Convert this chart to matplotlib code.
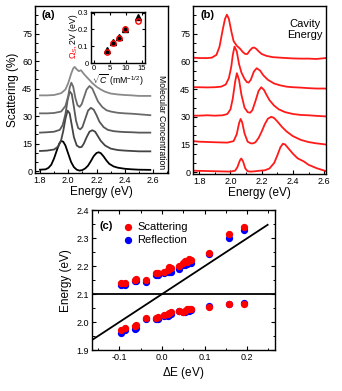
import matplotlib
matplotlib.use("Agg")
import matplotlib.pyplot as plt
from matplotlib.ticker import MultipleLocator

plt.rcParams['font.family'] = ['Liberation Sans', 'DejaVu Sans']
plt.rcParams['mathtext.fontset'] = 'custom'
plt.rcParams['mathtext.rm'] = 'Liberation Sans'
plt.rcParams['mathtext.it'] = 'Liberation Sans:italic'

# ---- panel (a): scattering spectra vs molecular concentration ----
a0_e = [1.80, 1.84, 1.86, 1.88, 1.90, 1.92, 1.935, 1.95, 1.965, 1.98, 2.00, 2.02, 2.04, 2.06, 2.08, 2.10,
        2.12, 2.14, 2.16, 2.18, 2.20, 2.215, 2.23, 2.25, 2.27, 2.29, 2.32, 2.35, 2.40, 2.45, 2.50, 2.58]
a0_v = [0.8, 1.0, 1.8, 3.5, 7.0, 11.5, 14.8, 16.5, 16.0, 14.0, 9.5, 5.0, 2.2, 0.8, 0.3, 0.6,
        1.5, 3.0, 5.5, 8.2, 9.9, 10.3, 9.8, 8.0, 5.8, 4.0, 2.6, 1.9, 1.3, 1.0, 0.8, 0.7]
a1_e = [1.80, 1.85, 1.90, 1.93, 1.95, 1.965, 1.98, 1.995, 2.01, 2.025, 2.04, 2.06, 2.08, 2.095, 2.11,
        2.13, 2.15, 2.17, 2.19, 2.21, 2.23, 2.26, 2.30, 2.35, 2.40, 2.45, 2.50, 2.58]
a1_v = [11.0, 11.2, 11.8, 13.5, 17.0, 22.0, 28.5, 33.0, 31.5, 25.0, 18.5, 14.0, 13.0, 13.2, 15.0,
        18.5, 21.5, 22.3, 21.5, 19.0, 16.5, 14.0, 12.3, 11.5, 11.2, 11.0, 10.8, 10.8]
a2_e = [1.80, 1.85, 1.90, 1.94, 1.96, 1.98, 1.995, 2.01, 2.025, 2.04, 2.055, 2.07, 2.085, 2.10, 2.12,
        2.14, 2.16, 2.18, 2.20, 2.22, 2.25, 2.28, 2.32, 2.36, 2.40, 2.45, 2.50, 2.58]
a2_v = [21.0, 21.2, 21.5, 22.5, 25.0, 31.0, 38.5, 43.5, 42.0, 35.0, 27.5, 23.5, 22.8, 24.0, 28.5,
        33.0, 34.5, 33.5, 30.5, 27.0, 24.0, 22.5, 21.8, 21.5, 21.3, 21.2, 21.0, 21.0]
a3_e = [1.80, 1.85, 1.90, 1.95, 1.98, 2.00, 2.01, 2.022, 2.035, 2.05, 2.065, 2.08, 2.095, 2.11, 2.13,
        2.15, 2.17, 2.19, 2.21, 2.24, 2.27, 2.30, 2.35, 2.40, 2.45, 2.50, 2.58]
a3_v = [31.5, 31.5, 31.7, 32.5, 35.5, 41.0, 45.5, 48.2, 46.0, 40.0, 36.0, 35.0, 36.5, 40.0, 44.5,
        46.4, 45.0, 41.5, 38.0, 35.0, 33.2, 32.5, 31.8, 31.5, 31.3, 31.0, 30.5]
a4_e = [1.80, 1.85, 1.90, 1.95, 1.98, 2.00, 2.02, 2.035, 2.046, 2.06, 2.075, 2.09, 2.11, 2.14, 2.17,
        2.20, 2.23, 2.26, 2.30, 2.35, 2.40, 2.45, 2.50, 2.58]
a4_v = [41.3, 41.3, 41.5, 42.5, 44.5, 48.0, 53.0, 56.0, 56.8, 55.5, 54.5, 55.0, 53.0, 50.5, 48.0,
        46.0, 44.5, 43.3, 42.3, 41.8, 41.5, 41.3, 41.0, 41.0]
a_colors = ['#000000', '#444444', '#585858', '#6a6a6a', '#8a8a8a']

# inset: splitting vs sqrt(concentration)
inset_c = [4.2, 6.1, 7.9, 9.7, 13.9]
inset_2v = [0.08, 0.125, 0.155, 0.205, 0.275]
inset_omega = [0.065, 0.12, 0.15, 0.2, 0.25]

# ---- panel (b): scattering spectra vs cavity energy ----
b0_e = [1.76, 1.80, 1.90, 2.00, 2.03, 2.045, 2.06, 2.069, 2.08, 2.095, 2.11, 2.13, 2.16, 2.19, 2.22,
        2.25, 2.28, 2.30, 2.32, 2.336, 2.35, 2.37, 2.40, 2.43, 2.47, 2.50, 2.55, 2.61]
b0_v = [0.8, 0.7, 0.5, 0.3, 0.8, 2.8, 6.3, 7.4, 6.0, 2.0, 0.5, 0.3, 0.5, 0.8, 1.0,
        2.0, 5.0, 9.0, 13.5, 15.4, 15.0, 13.0, 10.0, 7.5, 5.8, 4.0, 2.2, 0.6]
b1_e = [1.76, 1.80, 1.90, 1.98, 2.02, 2.04, 2.055, 2.065, 2.075, 2.09, 2.11, 2.13, 2.145, 2.16, 2.18,
        2.20, 2.22, 2.24, 2.262, 2.28, 2.30, 2.33, 2.36, 2.40, 2.45, 2.50, 2.55, 2.61]
b1_v = [16.8, 16.5, 16.2, 16.0, 16.8, 20.5, 26.5, 28.8, 27.0, 21.0, 16.5, 15.6, 15.6, 16.2, 18.5,
        22.0, 26.0, 29.0, 30.0, 29.3, 27.5, 24.5, 22.0, 19.5, 17.5, 16.3, 15.6, 15.0]
b2_e = [1.76, 1.80, 1.85, 1.90, 1.95, 1.98, 2.00, 2.015, 2.03, 2.041, 2.055, 2.07, 2.09, 2.11, 2.126,
        2.14, 2.16, 2.18, 2.197, 2.215, 2.23, 2.25, 2.28, 2.31, 2.35, 2.40, 2.45, 2.50, 2.55, 2.61]
b2_v = [30.6, 30.6, 30.8, 30.6, 30.8, 31.5, 34.0, 40.0, 49.0, 53.6, 50.0, 42.0, 35.0, 32.5, 32.2,
        33.5, 38.5, 44.0, 46.0, 44.5, 42.0, 39.0, 36.0, 34.0, 32.5, 31.5, 31.0, 30.8, 30.5, 30.2]
b3_e = [1.76, 1.80, 1.85, 1.90, 1.94, 1.97, 1.99, 2.005, 2.015, 2.026, 2.04, 2.055, 2.07, 2.09, 2.105,
        2.116, 2.13, 2.15, 2.168, 2.19, 2.21, 2.24, 2.28, 2.32, 2.36, 2.40, 2.45, 2.50, 2.55, 2.61]
b3_v = [46.0, 46.0, 45.9, 46.0, 46.3, 47.5, 51.0, 57.0, 63.5, 68.0, 65.5, 58.5, 54.0, 50.5, 48.8,
        48.5, 50.0, 54.5, 56.3, 55.0, 52.5, 50.0, 48.0, 47.0, 46.3, 46.0, 45.8, 45.5, 45.3, 45.3]
b4_e = [1.76, 1.80, 1.85, 1.88, 1.91, 1.93, 1.95, 1.965, 1.977, 1.99, 2.005, 2.02, 2.04, 2.06, 2.08,
        2.095, 2.108, 2.125, 2.14, 2.152, 2.165, 2.18, 2.20, 2.23, 2.27, 2.32, 2.40, 2.45, 2.50, 2.55, 2.61]
b4_v = [62.0, 61.8, 61.8, 62.0, 63.5, 68.0, 77.0, 83.0, 85.3, 83.0, 76.5, 71.0, 68.5, 67.0, 65.0,
        64.0, 64.0, 66.0, 67.3, 67.5, 66.8, 65.5, 64.0, 63.0, 62.3, 62.0, 61.6, 61.5, 61.5, 61.3, 61.8]

# ---- panel (c): polariton energies vs detuning ----
de = [-0.097, -0.087, -0.064, -0.060, -0.037, -0.013, -0.009, 0.004, 0.014, 0.017, 0.020,
      0.040, 0.049, 0.054, 0.059, 0.064, 0.067, 0.111, 0.158, 0.193]
up_scat = [2.140, 2.140, 2.152, 2.153, 2.150, 2.175, 2.175, 2.180, 2.188, 2.197, 2.192,
           2.200, 2.212, 2.218, 2.215, 2.225, 2.222, 2.247, 2.315, 2.340]
up_refl = [2.133, 2.133, 2.147, 2.148, 2.145, 2.170, 2.170, 2.177, 2.180, 2.178, 2.178,
           2.190, 2.205, 2.205, 2.207, 2.210, 2.212, 2.243, 2.300, 2.330]
lp_scat = [1.970, 1.980, 1.985, 1.990, 2.015, 2.015, 2.017, 2.025, 2.030, 2.033, 2.037,
           2.040, 2.035, 2.040, 2.045, 2.045, 2.047, 2.055, 2.063, 2.063]
lp_refl = [1.962, 1.970, 1.975, 1.980, 2.010, 2.010, 2.012, 2.020, 2.023, 2.025, 2.030,
           2.038, 2.035, 2.035, 2.040, 2.040, 2.042, 2.057, 2.065, 2.068]
cav_x = [-0.165, 0.248]
cav_y = [1.935, 2.348]
mol_x = [-0.165, 0.266]
mol_y = [2.1, 2.1]


def style(ax, right=False, top=False):
    ax.tick_params(which='both', direction='in', labelsize=6.5, pad=2, right=right, top=top)
    ax.tick_params(which='major', length=3, width=0.8)
    ax.tick_params(which='minor', length=1.8, width=0.7)
    for s in ax.spines.values():
        s.set_linewidth(1.0)


fig = plt.figure(figsize=(3.42, 3.91), dpi=100)
W, H = 342, 391


def add_ax(l, t, r, b):
    return fig.add_axes([l / W, 1 - b / H, (r - l) / W, (b - t) / H])


# panel (a)
ax_a = add_ax(35, 6, 168, 173)
for e, v, c in zip([a0_e, a1_e, a2_e, a3_e, a4_e], [a0_v, a1_v, a2_v, a3_v, a4_v], a_colors):
    ax_a.plot(e, v, color=c, lw=1.3)
ax_a.set_xlim(1.765, 2.705)
ax_a.set_ylim(-1, 90)
ax_a.set_xticks([1.8, 2.0, 2.2, 2.4, 2.6])
ax_a.set_yticks([0, 15, 30, 45, 60, 75])
ax_a.xaxis.set_minor_locator(MultipleLocator(0.1))
ax_a.yaxis.set_minor_locator(MultipleLocator(5))
style(ax_a)
ax_a.set_xlabel('Energy (eV)', fontsize=8.5, labelpad=1)
ax_a.set_ylabel('Scattering (%)', fontsize=8.5, labelpad=2)
ax_a.text(0.05, 0.946, '(a)', transform=ax_a.transAxes, fontsize=8, fontweight='bold', va='center')
ax_a.text(0.95, 0.305, 'Molecular Concentration', transform=ax_a.transAxes, rotation=270,
          fontsize=6.2, ha='center', va='center')

# inset
ax_i = add_ax(90.7, 11.7, 145, 63)
ax_i.plot(inset_c, inset_2v, linestyle='none', marker='^', ms=4, color='black')
ax_i.plot(inset_c, inset_omega, linestyle='none', marker='o', ms=3.8, mfc='none', mec='red', mew=1.0)
ax_i.set_xlim(-1, 16)
ax_i.set_ylim(0, 0.305)
ax_i.set_xticks([0, 5, 10, 15])
ax_i.set_yticks([0, 0.1, 0.2, 0.3])
ax_i.set_yticklabels(['0', '0.1', '0.2', '0.3'])
style(ax_i, right=True, top=True)
ax_i.tick_params(labelsize=5.5, pad=1.5)
ax_i.tick_params(which='major', length=2.5)
ax_i.set_xlabel(r'$\sqrt{C}$ (mM$^{-1/2}$)', fontsize=6.3, labelpad=0.5)
ax_i.text(-0.31, 0.22, r'$\Omega_S$,', transform=ax_i.transAxes, rotation=90, color='red',
          fontsize=6.3, ha='center', va='center')
ax_i.text(-0.31, 0.66, '2V (eV)', transform=ax_i.transAxes, rotation=90, color='black',
          fontsize=6.3, ha='center', va='center')

# panel (b)
ax_b = add_ax(193, 6, 326, 174)
for e, v in zip([b0_e, b1_e, b2_e, b3_e, b4_e], [b0_v, b1_v, b2_v, b3_v, b4_v]):
    ax_b.plot(e, v, color='#ff1a1a', lw=1.3)
ax_b.set_xlim(1.76, 2.612)
ax_b.set_ylim(-1, 90)
ax_b.set_xticks([1.8, 2.0, 2.2, 2.4, 2.6])
ax_b.set_yticks([0, 15, 30, 45, 60, 75])
ax_b.xaxis.set_minor_locator(MultipleLocator(0.1))
ax_b.yaxis.set_minor_locator(MultipleLocator(5))
style(ax_b)
ax_b.set_xlabel('Energy (eV)', fontsize=8.5, labelpad=1)
ax_b.text(0.06, 0.946, '(b)', transform=ax_b.transAxes, fontsize=8, fontweight='bold', va='center')
ax_b.text(0.84, 0.86, 'Cavity\nEnergy', transform=ax_b.transAxes, fontsize=8, ha='center',
          va='center', linespacing=1.15)

# panel (c)
ax_c = add_ax(91.7, 210.3, 275.3, 350)
ax_c.plot(mol_x, mol_y, color='black', lw=1.3)
ax_c.plot(cav_x, cav_y, color='black', lw=1.3)
ax_c.scatter(de, up_refl, s=18, color='#0000ff', zorder=3, label='Reflection')
ax_c.scatter(de, lp_refl, s=18, color='#0000ff', zorder=3)
ax_c.scatter(de, up_scat, s=18, color='#ff0000', zorder=4, label='Scattering')
ax_c.scatter(de, lp_scat, s=18, color='#ff0000', zorder=4)
ax_c.set_xlim(-0.165, 0.266)
ax_c.set_ylim(1.9, 2.4)
ax_c.set_xticks([-0.1, 0.0, 0.1, 0.2])
ax_c.set_xticklabels(['-0.1', '0.0', '0.1', '0.2'])
ax_c.set_yticks([1.9, 2.0, 2.1, 2.2, 2.3, 2.4])
ax_c.xaxis.set_minor_locator(MultipleLocator(0.05))
ax_c.yaxis.set_minor_locator(MultipleLocator(0.05))
style(ax_c, right=True, top=True)
ax_c.set_xlabel(r'$\Delta$E (eV)', fontsize=8.5, labelpad=2)
ax_c.set_ylabel('Energy (eV)', fontsize=8.5, labelpad=3)
ax_c.text(0.045, 0.888, '(c)', transform=ax_c.transAxes, fontsize=8, fontweight='bold', va='center')
h, l = ax_c.get_legend_handles_labels()
ax_c.legend(h[::-1], l[::-1], loc='upper left', bbox_to_anchor=(0.11, 0.97), frameon=False,
            fontsize=8, handletextpad=0.1, labelspacing=0.25, borderpad=0.2, handlelength=1.5)

fig.savefig('out.png', dpi=100)
